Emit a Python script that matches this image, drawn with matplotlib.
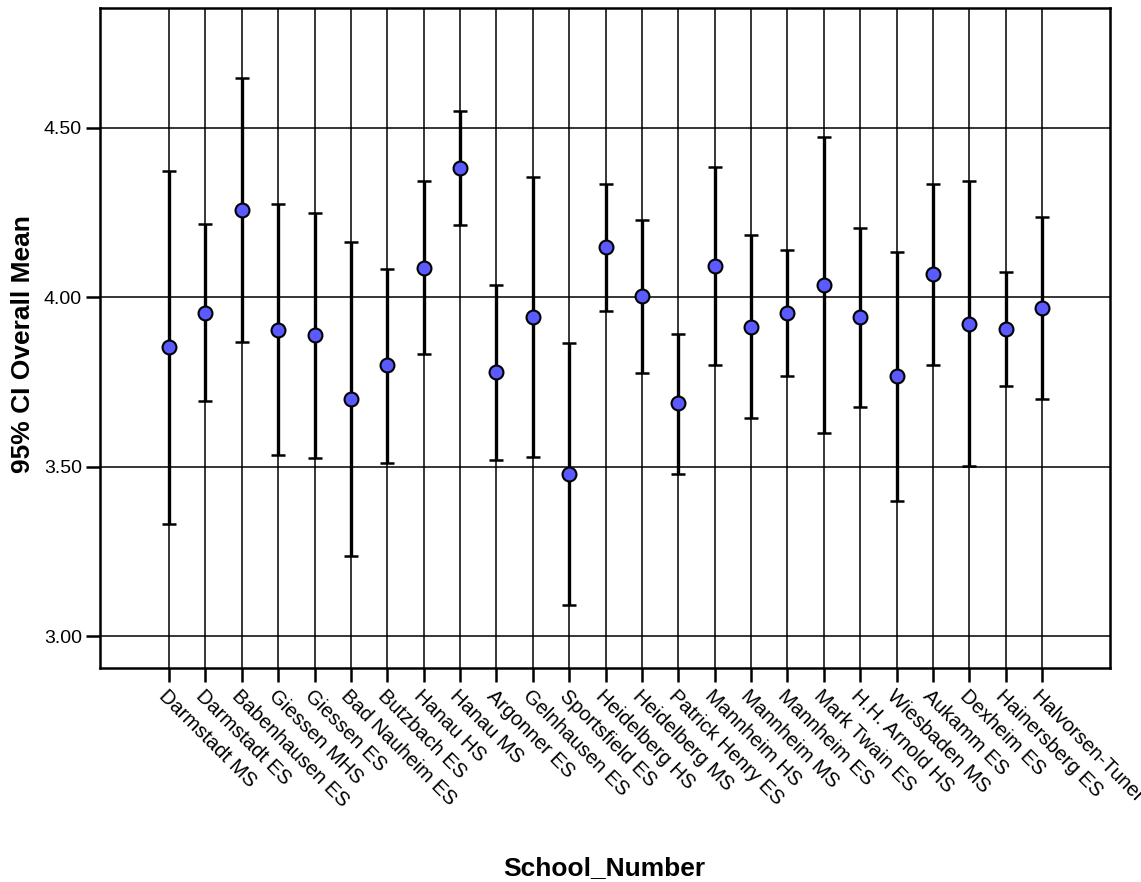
import numpy as np
import matplotlib.pyplot as plt

schools = ['Darmstadt MS', 'Darmstadt ES', 'Babenhausen ES', 'Giessen MHS', 'Giessen ES',
           'Bad Nauheim ES', 'Butzbach ES', 'Hanau HS', 'Hanau MS', 'Argonner ES',
           'Gelnhausen ES', 'Sportsfield ES', 'Heidelberg HS', 'Heidelberg MS',
           'Patrick Henry ES', 'Mannheim HS', 'Mannheim MS', 'Mannheim ES',
           'Mark Twain ES', 'H.H. Arnold HS', 'Wiesbaden MS', 'Aukamm ES',
           'Dexheim ES', 'Hainersberg ES', 'Halvorsen-Tuner ES']
means = [3.853, 3.955, 4.258, 3.905, 3.888, 3.700, 3.799, 4.088, 4.382, 3.779,
         3.942, 3.478, 4.149, 4.003, 3.687, 4.092, 3.913, 3.954, 4.037, 3.941,
         3.767, 4.068, 3.922, 3.908, 3.970]
ci_upper = [4.374, 4.217, 4.647, 4.276, 4.249, 4.162, 4.084, 4.342, 4.550, 4.036,
            4.355, 3.864, 4.336, 4.228, 3.892, 4.384, 4.183, 4.141, 4.474, 4.205,
            4.134, 4.336, 4.343, 4.076, 4.236]
ci_lower = [3.332, 3.695, 3.867, 3.536, 3.525, 3.238, 3.512, 3.832, 4.213, 3.521,
            3.530, 3.091, 3.961, 3.778, 3.480, 3.801, 3.645, 3.768, 3.599, 3.676,
            3.400, 3.801, 3.501, 3.738, 3.701]
yticks = [3.00, 3.50, 4.00, 4.50]

plt.rcParams['font.family'] = ['Liberation Sans', 'DejaVu Sans']

fig = plt.figure(figsize=(11.41, 8.82), dpi=100)
ax = fig.add_axes([0.0876, 0.2426, 0.8853, 0.7483])

x = np.arange(len(schools))
means = np.array(means)
lo = means - np.array(ci_lower)
hi = np.array(ci_upper) - means

# grid first so the bars sit on top
for xi in x:
    ax.axvline(xi, color='black', lw=1.1, zorder=1)
for yt in yticks:
    ax.axhline(yt, color='black', lw=1.1, zorder=1)

ax.errorbar(x, means, yerr=[lo, hi], fmt='none', ecolor='black',
            elinewidth=2.4, capsize=5, capthick=1.8, zorder=2)
ax.plot(x, means, 'o', ms=10, mfc='#5a5aff', mec='black', mew=1.5, zorder=3)

ax.set_xlim(-1.9, 25.87)
ax.set_ylim(2.906, 4.854)
ax.set_yticks(yticks)
ax.set_yticklabels(['%.2f' % t for t in yticks], fontsize=14)
ax.set_xticks(x)
ax.set_xticklabels(schools, rotation=-45, ha='left', va='top',
                   rotation_mode='anchor', fontsize=14.5)
ax.tick_params(axis='both', direction='out', length=10, width=1.8, color='black')
ax.tick_params(axis='x', pad=3)
ax.tick_params(axis='y', pad=3)
for s in ax.spines.values():
    s.set_linewidth(1.8)

fig.text(0.530, 0.016, 'School_Number', ha='center', va='center',
         fontsize=19, fontweight='bold')
fig.text(0.020, 0.610, '95% CI Overall Mean', ha='center', va='center',
         rotation=90, fontsize=19, fontweight='bold')

fig.savefig('out.png', dpi=100)
